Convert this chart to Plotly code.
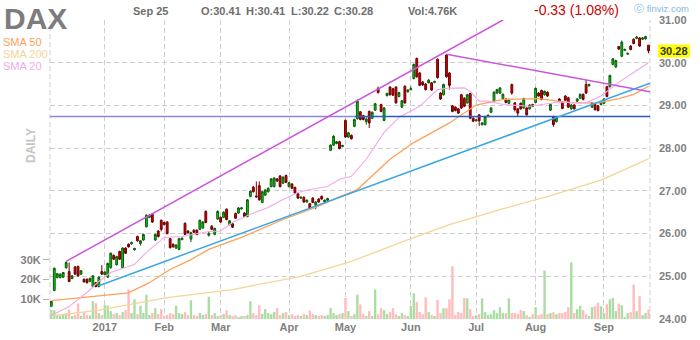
import plotly.graph_objects as go
import pandas as pd

# ---------------- data ----------------
open_ = [
    24.30, 24.67, 24.97, 24.97, 24.98, 25.20, 25.11, 24.95, 25.22, 25.23,
    25.05, 24.93, 24.93, 24.88, 24.76, 24.85, 24.76, 25.11, 25.04, 24.98,
    25.20, 25.49, 25.27, 25.58, 25.20, 25.66, 25.75, 25.76, 25.62, 25.93,
    25.77, 25.85, 26.16, 26.38, 26.45, 25.85, 26.06, 26.31, 26.26, 26.27,
    25.88, 25.75, 25.66, 25.63, 25.86, 26.24, 26.06, 25.87, 26.08, 26.08,
    26.10, 26.13, 26.52, 25.96, 26.17, 25.98, 26.34, 26.38, 26.38, 26.57,
    26.21, 26.23, 26.47, 26.48, 26.58, 26.48, 26.40, 26.87, 27.09, 26.88,
    27.12, 26.73, 26.90, 26.98, 27.10, 27.10, 27.28, 27.35, 27.18, 27.36,
    27.10, 27.16, 27.08, 26.93, 26.83, 26.85, 26.74, 26.70, 26.83, 26.66,
    26.81, 26.87, 26.74, 26.78, 27.95, 28.07, 28.11, 28.15, 28.04, 28.65,
    28.26, 28.30, 28.51, 28.69, 28.85, 28.76, 28.62, 28.86, 28.70, 28.89,
    29.40, 29.02, 28.65, 29.23, 29.43, 29.39, 29.43, 29.21, 28.96, 29.45,
    29.32, 29.37, 29.63, 30.10, 29.76, 29.55, 29.50, 29.53, 29.53, 29.54,
    30.08, 29.29, 29.25, 30.18, 29.76, 28.99, 28.96, 28.92, 29.25, 29.17,
    29.06, 29.28, 28.70, 28.64, 28.78, 28.55, 28.55, 28.74, 28.84, 29.10,
    29.29, 29.29, 29.16, 29.15, 29.05, 29.49, 29.06, 28.92, 29.05, 28.94,
    28.94, 28.92, 29.02, 29.07, 29.29, 29.35, 29.25, 29.31, 28.89, 28.74,
    28.62, 29.15, 29.08, 29.22, 29.18, 28.92, 29.01, 29.10, 29.17, 29.26,
    29.49, 29.46, 28.96, 29.02, 28.99, 29.02, 29.05, 29.44, 29.44, 29.96,
    29.90, 30.38, 30.15, 30.29, 30.20, 30.39, 30.55, 30.57, 30.58, 30.55,
    30.56, 30.41,
]
high = [
    24.42, 25.20, 25.08, 25.07, 25.10, 25.35, 25.32, 25.03, 25.24, 25.25,
    25.14, 24.95, 24.95, 24.97, 25.03, 24.87, 25.00, 25.26, 25.12, 25.32,
    25.56, 25.51, 25.48, 25.60, 25.68, 25.68, 25.77, 25.81, 25.67, 25.95,
    25.85, 26.00, 26.45, 26.45, 26.47, 26.00, 26.08, 26.33, 26.28, 26.29,
    25.90, 25.77, 25.75, 25.90, 25.91, 26.26, 26.08, 26.04, 26.10, 26.10,
    26.33, 26.29, 26.54, 26.05, 26.20, 26.14, 26.54, 26.40, 26.52, 26.59,
    26.32, 26.25, 26.49, 26.62, 26.62, 26.50, 26.81, 27.01, 27.11, 27.22,
    27.22, 27.00, 27.04, 27.08, 27.30, 27.32, 27.30, 27.37, 27.34, 27.38,
    27.21, 27.18, 27.10, 26.95, 26.87, 26.87, 26.80, 26.72, 26.85, 26.76,
    26.83, 26.89, 26.80, 26.84, 28.09, 28.30, 28.17, 28.17, 28.08, 28.67,
    28.38, 28.32, 28.69, 29.14, 28.87, 28.78, 28.72, 28.88, 28.86, 29.06,
    29.44, 29.04, 28.96, 29.30, 29.45, 29.41, 29.45, 29.32, 29.13, 29.47,
    29.38, 29.45, 29.98, 30.12, 29.78, 29.57, 29.52, 29.62, 29.55, 29.58,
    30.10, 29.31, 29.51, 30.20, 29.78, 29.01, 28.98, 28.94, 29.27, 29.19,
    29.27, 29.30, 28.72, 28.68, 28.80, 28.61, 28.76, 28.79, 28.96, 29.33,
    29.39, 29.43, 29.28, 29.17, 29.16, 29.51, 29.08, 28.94, 29.07, 29.18,
    28.96, 29.03, 29.04, 29.42, 29.31, 29.37, 29.35, 29.33, 29.04, 28.76,
    28.74, 29.17, 29.10, 29.24, 29.20, 29.03, 29.03, 29.17, 29.28, 29.28,
    29.60, 29.51, 29.08, 29.04, 29.01, 29.10, 29.17, 29.46, 29.72, 30.11,
    30.07, 30.39, 30.52, 30.33, 30.23, 30.41, 30.57, 30.63, 30.60, 30.60,
    30.63, 30.41,
]
low = [
    24.29, 24.65, 24.95, 24.95, 24.96, 25.18, 24.86, 24.93, 25.03, 24.99,
    25.03, 24.85, 24.83, 24.86, 24.74, 24.74, 24.74, 25.03, 25.02, 24.96,
    25.18, 25.38, 25.25, 25.38, 25.18, 25.52, 25.67, 25.74, 25.60, 25.81,
    25.72, 25.83, 26.14, 26.36, 26.25, 25.83, 25.91, 26.05, 26.19, 25.98,
    25.65, 25.67, 25.64, 25.61, 25.84, 25.96, 26.00, 25.80, 26.01, 25.96,
    26.08, 26.11, 26.24, 25.93, 26.08, 25.96, 26.32, 26.25, 26.36, 26.31,
    26.19, 26.13, 26.34, 26.46, 26.56, 26.38, 26.38, 26.85, 26.96, 26.84,
    26.77, 26.71, 26.88, 26.96, 27.08, 27.08, 27.21, 27.08, 27.16, 27.18,
    27.08, 27.04, 26.93, 26.81, 26.81, 26.72, 26.72, 26.58, 26.71, 26.57,
    26.72, 26.79, 26.72, 26.74, 27.93, 28.05, 28.09, 27.97, 28.02, 28.24,
    28.24, 28.20, 28.49, 28.67, 28.65, 28.65, 28.55, 28.47, 28.68, 28.87,
    29.28, 28.84, 28.63, 29.21, 29.23, 29.22, 29.04, 29.19, 28.94, 29.04,
    29.30, 29.35, 29.61, 29.65, 29.45, 29.46, 29.35, 29.51, 29.34, 29.52,
    29.63, 29.13, 29.23, 29.65, 29.37, 28.84, 28.86, 28.80, 28.92, 28.96,
    29.04, 28.68, 28.61, 28.62, 28.52, 28.53, 28.53, 28.72, 28.82, 29.08,
    29.27, 29.27, 29.14, 29.05, 29.03, 29.25, 28.86, 28.74, 28.90, 28.92,
    28.76, 28.90, 28.96, 29.05, 29.20, 29.12, 29.23, 29.20, 28.87, 28.50,
    28.60, 29.08, 28.91, 29.10, 28.94, 28.90, 28.90, 29.08, 29.15, 29.12,
    29.27, 29.44, 28.94, 28.88, 28.86, 29.00, 29.03, 29.19, 29.42, 29.94,
    29.88, 30.30, 30.13, 30.27, 30.19, 30.29, 30.43, 30.55, 30.37, 30.53,
    30.54, 30.22,
]
close = [
    24.41, 25.19, 25.06, 25.05, 25.09, 25.32, 24.88, 25.01, 25.05, 25.01,
    25.13, 24.87, 24.85, 24.95, 25.01, 24.76, 24.98, 25.05, 25.10, 25.30,
    25.54, 25.40, 25.46, 25.40, 25.66, 25.54, 25.69, 25.79, 25.65, 25.83,
    25.83, 25.98, 26.43, 26.43, 26.27, 25.98, 25.93, 26.10, 26.21, 26.00,
    25.67, 25.69, 25.73, 25.88, 25.89, 25.98, 26.02, 26.02, 26.03, 25.98,
    26.31, 26.27, 26.26, 26.00, 26.10, 26.12, 26.52, 26.27, 26.50, 26.33,
    26.30, 26.15, 26.36, 26.60, 26.60, 26.40, 26.79, 26.99, 26.98, 26.86,
    26.79, 26.98, 27.02, 27.06, 27.28, 27.30, 27.23, 27.10, 27.32, 27.20,
    27.19, 27.06, 26.95, 26.83, 26.85, 26.74, 26.78, 26.60, 26.73, 26.74,
    26.74, 26.81, 26.78, 26.82, 28.07, 28.28, 28.15, 27.99, 28.06, 28.26,
    28.36, 28.22, 28.67, 29.10, 28.67, 28.67, 28.68, 28.59, 28.84, 29.04,
    29.30, 28.86, 28.94, 29.28, 29.25, 29.24, 29.06, 29.30, 29.11, 29.06,
    29.36, 29.39, 29.96, 29.67, 29.47, 29.48, 29.37, 29.59, 29.36, 29.56,
    29.65, 29.15, 29.49, 29.67, 29.47, 28.86, 28.88, 28.82, 28.94, 28.98,
    29.25, 28.70, 28.63, 28.66, 28.64, 28.59, 28.74, 28.77, 28.94, 29.31,
    29.37, 29.41, 29.26, 29.07, 29.14, 29.29, 28.90, 28.82, 28.92, 29.16,
    28.78, 29.01, 28.98, 29.40, 29.22, 29.14, 29.33, 29.22, 29.02, 28.55,
    28.72, 29.10, 28.93, 29.12, 28.96, 29.01, 28.92, 29.15, 29.26, 29.14,
    29.29, 29.49, 29.06, 28.90, 28.88, 29.08, 29.15, 29.21, 29.70, 30.09,
    30.05, 30.32, 30.48, 30.31, 30.22, 30.31, 30.45, 30.60, 30.39, 30.58,
    30.61, 30.28,
]
volume_k = [
    4.5, 4.5, 2.0, 1.5, 2.5, 3.0, 4.8, 1.5, 2.0, 7.9,
    1.5, 3.5, 2.0, 1.8, 9.0, 8.0, 3.0, 2.0, 7.0, 6.8,
    4.0, 2.5, 3.0, 2.0, 3.5, 4.5, 15.0, 3.0, 10.0, 2.5,
    6.7, 3.0, 12.4, 2.0, 3.0, 5.5, 2.5, 5.0, 1.5, 2.0,
    3.0, 2.5, 6.7, 3.0, 2.5, 3.5, 2.0, 9.5, 2.0, 1.5,
    3.0, 2.0, 2.5, 11.3, 2.0, 3.0, 1.5, 2.0, 2.5, 4.3,
    2.0, 1.5, 2.0, 1.0, 1.5, 1.5, 2.0, 9.1, 3.0, 2.0,
    7.0, 2.5, 5.0, 3.0, 2.5, 3.5, 5.5, 2.0, 3.0, 3.5,
    2.0, 2.5, 1.5, 2.0, 1.5, 2.5, 2.0, 4.3, 2.5, 2.0,
    1.5, 2.0, 1.5, 2.0, 5.6, 3.0, 2.0, 2.5, 3.0, 10.7,
    4.0, 1.5, 2.5, 12.4, 7.4, 2.5, 1.5, 4.0, 1.5, 15.0,
    2.5, 5.5, 4.5, 2.5, 3.5, 5.5, 2.5, 1.5, 3.0, 2.0,
    1.5, 6.7, 13.0, 8.7, 3.5, 2.5, 11.0, 3.5, 2.0, 1.5,
    9.7, 3.0, 5.5, 5.5, 10.0, 26.8, 2.0, 3.5, 3.0, 10.7,
    10.5, 5.0, 1.5, 2.0, 2.5, 10.5, 3.5, 2.0, 2.5, 4.5,
    3.0, 6.0, 3.0, 3.0, 10.5, 3.0, 3.0, 2.5, 4.5, 4.0,
    2.0, 1.0, 2.5, 6.0, 2.0, 2.5, 24.6, 2.5, 3.0, 3.5,
    2.5, 3.0, 3.0, 3.5, 6.0, 28.8, 3.0, 5.0, 6.7, 4.5,
    2.5, 1.5, 6.0, 6.5, 8.3, 6.5, 3.0, 7.5, 10.0, 10.7,
    4.0, 7.8, 7.0, 1.0, 3.0, 3.5, 17.5, 4.0, 11.6, 2.0,
    3.0, 4.76,
]

sma20_idx = [0, 6, 12, 16, 20, 28, 32, 38, 44, 53, 57, 61, 67, 73, 77, 83, 87, 93, 97, 101,
             106, 112, 117, 124, 130, 133, 139, 141, 144, 147, 152, 161, 171, 180, 185, 191, 196, 201]
sma20_val = [24.08, 24.29, 24.62, 24.88, 25.09, 25.28, 25.56, 25.91, 25.93, 26.05, 26.06, 26.26,
             26.45, 26.61, 26.76, 26.96, 27.03, 27.10, 27.27, 27.34, 27.74, 28.37, 28.72, 28.98,
             29.37, 29.40, 29.41, 29.33, 29.10, 29.10, 29.02, 28.98, 29.08, 29.06, 29.22, 29.54,
             29.77, 30.00]
sma50_idx = [0, 16, 26, 33, 40, 47, 53, 64, 78, 89, 95, 103, 114, 122, 131, 134, 143, 152, 164,
             169, 175, 184, 191, 196, 201]
sma50_val = [24.43, 24.53, 24.61, 24.85, 25.16, 25.39, 25.63, 25.91, 26.33, 26.61, 26.80, 27.03,
             27.74, 28.13, 28.48, 28.59, 29.01, 29.14, 29.16, 29.12, 29.06, 29.06, 29.16, 29.26, 29.45]
sma200_idx = [0, 16, 39, 61, 84, 101, 112, 120, 134, 151, 168, 185, 201]
sma200_val = [24.07, 24.21, 24.50, 24.69, 25.00, 25.35, 25.64, 25.86, 26.21, 26.56, 26.89, 27.25, 27.75]

channel_idx = [5, 152]
channel_val = [25.35, 31.0]
support_idx = [16, 201.5]
support_val = [24.78, 29.52]
resist_idx = [133, 201.5]
resist_val = [30.20, 29.32]
level_price = 28.74
level_split_idx = 102

month_labels = ["2017", "Feb", "Mar", "Apr", "May", "Jun", "Jul", "Aug", "Sep"]
month_first_days = ["2017-01-03", "2017-02-01", "2017-03-01", "2017-04-03", "2017-05-01",
                    "2017-06-01", "2017-07-03", "2017-08-01", "2017-09-01"]
holidays = ["2016-12-26", "2017-01-02", "2017-01-16", "2017-02-20", "2017-04-14",
            "2017-05-29", "2017-07-04", "2017-09-04"]
price_ticks = [24, 25, 26, 27, 28, 29, 30, 31]
vol_ticks = [10000, 20000, 30000]
vol_tick_labels = ["10K", "20K", "30K"]

# ---------------- build ----------------
all_days = pd.bdate_range("2016-12-06", "2017-09-25")
dates = [d.strftime("%Y-%m-%d") for d in all_days if d.strftime("%Y-%m-%d") not in holidays]
n = len(close)
x = list(range(n))
month_idx = [dates.index(d) for d in month_first_days]

FONT = "Liberation Sans, Arial, sans-serif"
GRID = "#cfcfcf"
DASH = "5px,3px"
LABEL_GRAY = "#7f7f7f"

vol = [v * 1000 for v in volume_k]
vol_colors = ["#a9dea2" if c >= o else "#ffbcbc" for o, c in zip(open_, close)]

fig = go.Figure()
fig.add_trace(go.Bar(x=x, y=vol, marker=dict(color=vol_colors, line=dict(width=0)),
                     width=0.8, yaxis="y", hoverinfo="skip"))
fig.add_trace(go.Scatter(x=sma200_idx, y=sma200_val, mode="lines",
                         line=dict(color="#f5d597", width=1.3), yaxis="y2"))
fig.add_trace(go.Scatter(x=sma50_idx, y=sma50_val, mode="lines",
                         line=dict(color="#ffa05a", width=1.3), yaxis="y2"))
fig.add_trace(go.Scatter(x=sma20_idx, y=sma20_val, mode="lines",
                         line=dict(color="#f3a8ea", width=1.1), yaxis="y2"))
fig.add_trace(go.Scatter(x=[-1, level_split_idx], y=[level_price, level_price], mode="lines",
                         line=dict(color="#8c88dc", width=1.5), yaxis="y2"))
fig.add_trace(go.Scatter(x=[level_split_idx, 203], y=[level_price, level_price], mode="lines",
                         line=dict(color="#2a5cbf", width=1.5), yaxis="y2"))
fig.add_trace(go.Scatter(x=channel_idx, y=channel_val, mode="lines",
                         line=dict(color="#cc55dd", width=1.5), yaxis="y2"))
fig.add_trace(go.Scatter(x=resist_idx, y=resist_val, mode="lines",
                         line=dict(color="#cc55dd", width=1.5), yaxis="y2"))
fig.add_trace(go.Scatter(x=support_idx, y=support_val, mode="lines",
                         line=dict(color="#39a5e6", width=1.5), yaxis="y2"))
fig.add_trace(go.Candlestick(
    x=x, open=open_, high=high, low=low, close=close, yaxis="y2",
    increasing=dict(fillcolor="#00d400", line=dict(color="#0c5a0c", width=1)),
    decreasing=dict(fillcolor="#d00000", line=dict(color="#6e0000", width=1)),
    whiskerwidth=0, hoverinfo="skip"))

tick_font = dict(family=FONT, size=11, color=LABEL_GRAY, weight="bold")

fig.update_layout(
    width=700, height=340,
    margin=dict(l=50, r=50, t=20, b=21, autoexpand=False),
    paper_bgcolor="white", plot_bgcolor="white",
    showlegend=False, boxgap=0.12,
    xaxis=dict(range=[-0.44, 201.5], tickvals=month_idx, ticktext=month_labels,
               showgrid=True, gridcolor=GRID, griddash=DASH, gridwidth=1,
               ticks="", zeroline=False, showline=False, automargin=False,
               rangeslider=dict(visible=False), tickfont=tick_font),
    yaxis=dict(range=[0, 151800], side="left", tickvals=vol_ticks, ticktext=vol_tick_labels,
               showgrid=False, zeroline=False, showline=False, ticks="outside",
               ticklen=6, tickcolor="#b0b0b0", tickfont=tick_font, automargin=False),
    yaxis2=dict(range=[24, 31], overlaying="y", side="right", tickvals=price_ticks,
                tickformat=".2f", showgrid=True, gridcolor=GRID, griddash=DASH, gridwidth=1,
                zeroline=False, showline=False, ticks="", ticklabelstandoff=8,
                tickfont=tick_font, automargin=False),
)

def px(xp):
    return (xp - 50) / 600.0

def py(yp):
    return (319 - yp) / 299.0

shapes = [
    dict(type="line", xref="paper", yref="paper", x0=0, x1=0, y0=0, y1=1,
         line=dict(color=GRID, width=1, dash=DASH), layer="below"),
    dict(type="line", xref="paper", yref="paper", x0=1, x1=1, y0=0, y1=1,
         line=dict(color=GRID, width=1, dash=DASH), layer="below"),
    dict(type="rect", xref="paper", yref="paper", x0=px(658), x1=px(690), y0=py(57.5), y1=py(44.5),
         fillcolor="#ffff00", line=dict(width=0)),
]
fig.update_layout(shapes=shapes)

def ann(text, xp, yp, size, color, bold=False, xanchor="left", angle=0):
    fig.add_annotation(text=text, xref="paper", yref="paper", x=px(xp), y=py(yp),
                       xanchor=xanchor, yanchor="middle", showarrow=False, textangle=angle,
                       borderpad=0,
                       font=dict(family=FONT, size=size, color=color,
                                 weight="bold" if bold else "normal"))

ann("DAX", 3, 18, 30, "#7c7c7c", bold=True)
ann("SMA 50", 2, 41.7, 11, "#ffa05a")
ann("SMA 200", 2, 53.7, 11, "#f5d597")
ann("SMA 20", 2, 65.5, 11, "#f3a8ea")
ann("DAILY", 31, 146, 12, "#c4c4c4", bold=True, xanchor="center", angle=-90)
ann("Sep 25", 132, 11, 11, "#6e6e6e", bold=True)
ann("O:30.41", 200, 11, 11, "#6e6e6e", bold=True)
ann("H:30.41", 245, 11, 11, "#6e6e6e", bold=True)
ann("L:30.22", 290, 11, 11, "#6e6e6e", bold=True)
ann("C:30.28", 333, 11, 11, "#6e6e6e", bold=True)
ann("Vol:4.76K", 407, 11, 11, "#6e6e6e", bold=True)
ann("-0.33 (1.08%)", 533, 10, 14, "#cc0000")
ann("\u24d2 finviz.com", 633, 8, 9.5, "#86b5e3")
ann("30.28", 674, 51, 11, "#333333", bold=True, xanchor="center")

fig.write_html("out.html")
